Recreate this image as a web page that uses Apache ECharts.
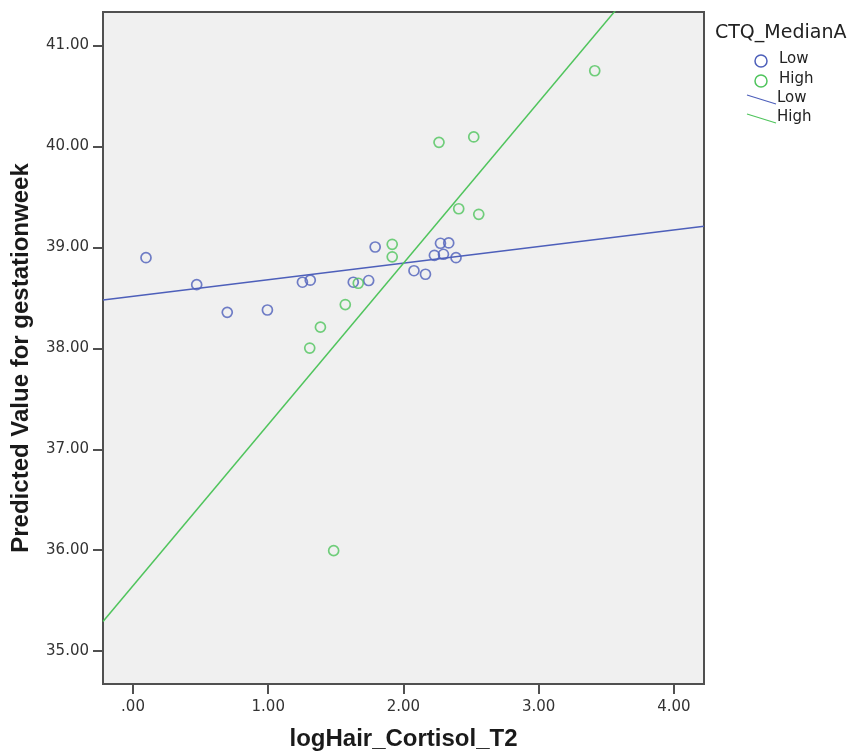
<!DOCTYPE html>
<html>
<head>
<meta charset="utf-8">
<script src="https://cdn.jsdelivr.net/npm/echarts@6/dist/echarts.min.js"></script>
<style>
html,body{margin:0;padding:0;background:#fff;}
#chart{width:853px;height:752px;}
</style>
</head>
<body>
<div id="chart"></div>
<script>
// ---- Data ----
var legendTitle = 'CTQ_MedianA';
var groupNames = ['Low', 'High'];
var xTicks = [0, 1, 2, 3, 4];
var yTicks = [35, 36, 37, 38, 39, 40, 41];

var lowX = [0.096, 0.471, 0.697, 0.994, 1.253, 1.311, 1.629, 1.743, 1.791, 2.078, 2.163, 2.229, 2.274, 2.296, 2.335, 2.389];
var lowY = [38.898, 38.631, 38.357, 38.380, 38.655, 38.675, 38.655, 38.672, 39.004, 38.769, 38.734, 38.922, 39.041, 38.932, 39.044, 38.898];

var highX = [2.263, 2.520, 2.409, 2.557, 1.917, 1.917, 1.666, 1.570, 1.386, 1.307, 1.484, 3.415];
var highY = [40.041, 40.094, 39.383, 39.328, 39.031, 38.907, 38.645, 38.434, 38.210, 38.003, 35.996, 40.750];

// fit lines (endpoints at the plot's x edges)
var lowFitX = [-0.222, 4.223];
var lowFitY = [38.479, 39.210];
var highFitX = [-0.222, 4.223];
var highFitY = [35.294, 42.393];

function pairs(xs, ys) { return xs.map(function (x, i) { return [x, ys[i]]; }); }
function fmt(v) { var s = v.toFixed(2); return s.charAt(0) === '0' ? s.slice(1) : s; }

var blue = '#4d5fba';
var green = '#4fc45c';
var axisColor = '#505050';

var chart = echarts.init(document.getElementById('chart'), null, { renderer: 'canvas' });
var option = {
  animation: false,
  backgroundColor: '#ffffff',
  grid: {
    left: 103, top: 12, width: 601, height: 672,
    containLabel: false, outerBoundsMode: 'none',
    show: true, backgroundColor: '#f0f0f0', borderColor: axisColor, borderWidth: 2
  },
  xAxis: {
    type: 'value', min: -0.222, max: 4.223,
    name: 'logHair_Cortisol_T2', nameLocation: 'middle', nameGap: 43,
    nameTextStyle: { fontFamily: 'Liberation Sans', fontWeight: 'bold', fontSize: 24, color: '#1a1a1a' },
    splitLine: { show: false },
    axisLine: { show: true, onZero: false, lineStyle: { color: axisColor, width: 2 } },
    axisTick: { show: true, length: 10, customValues: xTicks, lineStyle: { color: axisColor, width: 2 } },
    axisLabel: { customValues: xTicks, margin: 16, formatter: fmt, fontFamily: 'DejaVu Sans', fontSize: 15, color: '#333' }
  },
  yAxis: {
    type: 'value', min: 34.675, max: 41.332,
    name: 'Predicted Value for gestationweek', nameLocation: 'middle', nameGap: 70,
    nameTextStyle: { fontFamily: 'Liberation Sans', fontWeight: 'bold', fontSize: 24, color: '#1a1a1a', padding: [0, 20, 0, 0] },
    splitLine: { show: false },
    axisLine: { show: true, onZero: false, lineStyle: { color: axisColor, width: 2 } },
    axisTick: { show: true, length: 10, customValues: yTicks, lineStyle: { color: axisColor, width: 2 } },
    axisLabel: { customValues: yTicks, margin: 14, formatter: fmt, fontFamily: 'DejaVu Sans', fontSize: 15, color: '#333' }
  },
  graphic: [
    { type: 'text', left: 715, top: 24, style: { text: legendTitle, fontFamily: 'DejaVu Sans', fontSize: 19, fill: '#222' } },
    { type: 'circle', shape: { cx: 761, cy: 61, r: 6 }, style: { fill: 'none', stroke: blue, lineWidth: 1.5 } },
    { type: 'text', left: 779, top: 52, style: { text: groupNames[0], fontFamily: 'DejaVu Sans', fontSize: 15, fill: '#222' } },
    { type: 'circle', shape: { cx: 761, cy: 81, r: 6 }, style: { fill: 'none', stroke: green, lineWidth: 1.5 } },
    { type: 'text', left: 779, top: 72, style: { text: groupNames[1], fontFamily: 'DejaVu Sans', fontSize: 15, fill: '#222' } },
    { type: 'line', shape: { x1: 747, y1: 95, x2: 776, y2: 104 }, style: { stroke: blue, lineWidth: 1.2 } },
    { type: 'text', left: 777, top: 91, style: { text: groupNames[0], fontFamily: 'DejaVu Sans', fontSize: 15, fill: '#222' } },
    { type: 'line', shape: { x1: 747, y1: 114, x2: 776, y2: 123 }, style: { stroke: green, lineWidth: 1.2 } },
    { type: 'text', left: 777, top: 110, style: { text: groupNames[1], fontFamily: 'DejaVu Sans', fontSize: 15, fill: '#222' } }
  ],
  series: [
    {
      name: groupNames[0] + ' fit', type: 'line', data: pairs(lowFitX, lowFitY), showSymbol: false, clip: true,
      lineStyle: { color: blue, width: 1.5 }, z: 2
    },
    {
      name: groupNames[1] + ' fit', type: 'line', data: pairs(highFitX, highFitY), showSymbol: false, clip: true,
      lineStyle: { color: green, width: 1.5 }, z: 2
    },
    {
      name: groupNames[0], type: 'scatter', data: pairs(lowX, lowY), symbol: 'circle', symbolSize: 10,
      itemStyle: { color: 'rgba(0,0,0,0)', borderColor: blue, borderWidth: 1.7 }, z: 3
    },
    {
      name: groupNames[1], type: 'scatter', data: pairs(highX, highY), symbol: 'circle', symbolSize: 10,
      itemStyle: { color: 'rgba(0,0,0,0)', borderColor: green, borderWidth: 1.7 }, z: 3
    }
  ]
};
chart.setOption(option);
</script>
</body>
</html>
